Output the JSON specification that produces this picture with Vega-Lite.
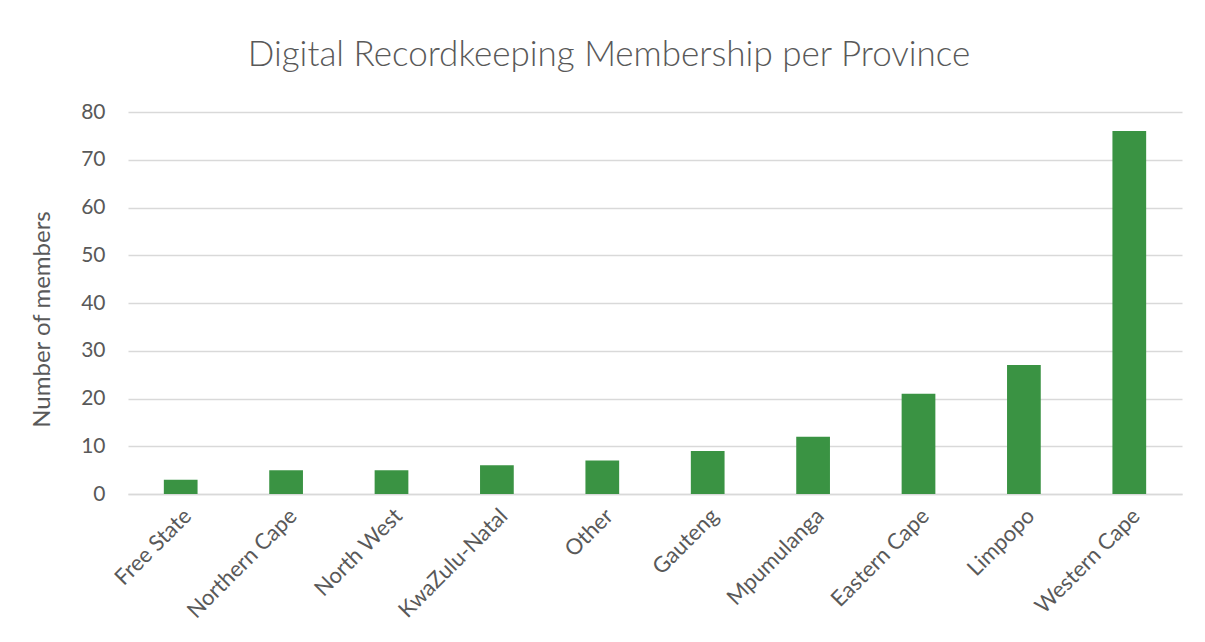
{
  "$schema": "https://vega.github.io/schema/vega-lite/v6.json",
  "autosize": "none",
  "width": 1054,
  "height": 382,
  "padding": {"left": 128, "top": 112, "right": 23, "bottom": 148},
  "background": "white",
  "title": {
    "text": "Digital Recordkeeping Membership per Province",
    "font": "Lato",
    "fontWeight": 300,
    "fontSize": 35,
    "color": "#595959",
    "anchor": "middle",
    "dx": -46,
    "offset": 28
  },
  "data": {
    "values": [
      {"province": "Free State", "members": 3},
      {"province": "Northern Cape", "members": 5},
      {"province": "North West", "members": 5},
      {"province": "KwaZulu-Natal", "members": 6},
      {"province": "Other", "members": 7},
      {"province": "Gauteng", "members": 9},
      {"province": "Mpumulanga", "members": 12},
      {"province": "Eastern Cape", "members": 21},
      {"province": "Limpopo", "members": 27},
      {"province": "Western Cape", "members": 76}
    ]
  },
  "mark": {"type": "bar", "color": "#3a9343"},
  "encoding": {
    "x": {
      "field": "province",
      "type": "nominal",
      "sort": null,
      "scale": {"paddingInner": 0.68, "paddingOuter": 0.34},
      "axis": {
        "title": null,
        "labelAngle": -45,
        "labelFont": "Lato",
        "labelFontSize": 22,
        "labelColor": "#595959",
        "labelPadding": 11,
        "ticks": false,
        "domainColor": "#d9d9d9",
        "domainWidth": 1.5,
        "grid": false
      }
    },
    "y": {
      "field": "members",
      "type": "quantitative",
      "scale": {"domain": [0, 80]},
      "axis": {
        "title": "Number of members",
        "titleFont": "Lato",
        "titleFontWeight": "normal",
        "titleFontSize": 24,
        "titleColor": "#595959",
        "titleAngle": -90,
        "titleAlign": "center",
        "titleBaseline": "middle",
        "titleX": -86,
        "titleY": 207,
        "values": [0, 10, 20, 30, 40, 50, 60, 70, 80],
        "labelFont": "Lato",
        "labelFontSize": 21,
        "labelColor": "#595959",
        "labelPadding": 23,
        "ticks": false,
        "tickSize": 0,
        "domain": false,
        "gridColor": "#d9d9d9",
        "gridWidth": 1.5
      }
    }
  },
  "config": {"view": {"stroke": null}}
}
